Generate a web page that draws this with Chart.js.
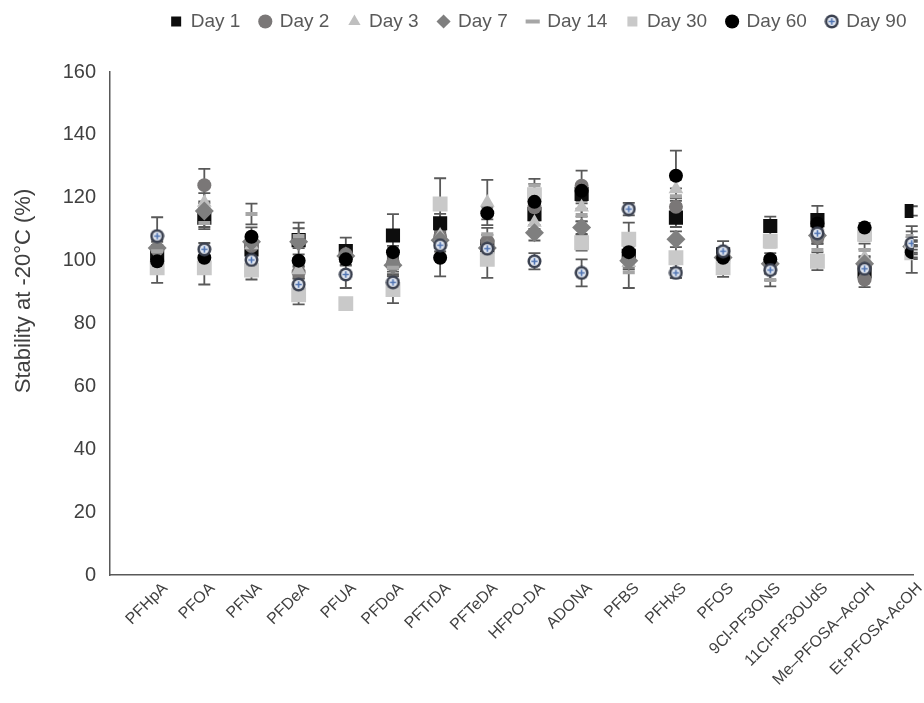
<!DOCTYPE html>
<html>
<head>
<meta charset="utf-8">
<script src="https://cdn.jsdelivr.net/npm/chart.js@4.4.0/dist/chart.umd.min.js"></script>
<style>
  html, body { margin: 0; padding: 0; background: #fff; overflow: hidden; }
  #wrap { width: 924px; height: 703px; }
</style>
</head>
<body>
<div id="wrap"><canvas id="stabilityChart"></canvas></div>
<script>
// Données
const compounds = ['PFHpA', 'PFOA', 'PFNA', 'PFDeA', 'PFUA', 'PFDoA', 'PFTrDA', 'PFTeDA', 'HFPO-DA', 'ADONA',
    'PFBS', 'PFHxS', 'PFOS', '9Cl-PF3ONS', '11Cl-PF3OUdS', 'Me\u2013PFOSA\u2013AcOH', 'Et-PFOSA-AcOH'];
const yTickValues = [0, 20, 40, 60, 80, 100, 120, 140, 160];
const yTitle = 'Stability at -20\u00B0C (%)';

const day1 = [102, 113.7, 103.6, 106.5, 103, 108, 111.9, 104.5, 114.8, 121.2, 101.5, 113.7, 102, 111, 112.9, 96.6, 115.8];
const day1Err = [2, 3, 2.5, 5.6, 4.3, 6.8, 3, 2.5, 2, 3, 2, 3, 2, 3, 4.5, 2, 1.5];
const day2 = [103.6, 124, 104.6, 96.3, 102, 99.3, 107.5, 106.2, 117, 123.8, 100.4, 117.1, 101.5, 99.5, 107.3, 94, 104];
const day2Err = [3, 5.2, 2.5, 2, 2, 2, 2, 2, 2.5, 4.8, 2, 3, 1.5, 2, 2, 2.4, 2];
const day3 = [101, 118.5, 105, 97, 101, 99.5, 108, 118.5, 112.1, 117, 99.3, 122.8, 100.5, 98, 111, 101, 103];
const day3Err = [2, 3, 2, 2, 1.5, 2, 2, 7.2, 2, 3, 2, 3, 1.5, 2, 2, 2.6, 2];
const day7 = [104, 115.8, 106, 106, 101.5, 98.5, 106.5, 104, 108.9, 110.5, 100, 106.8, 101, 99, 108, 99, 104.5];
const day7Err = [2, 2.5, 2, 2, 1.5, 2, 2, 2, 2.5, 2, 2, 2.5, 1.5, 2, 2, 2, 2];
const day14 = [103, 112, 114.8, 107.8, 101, 97.7, 106, 108.4, 124, 114.5, 96.3, 120.5, 96.3, 93.8, 103.4, 103.4, 107.8];
const day14Err = [2, 2, 3.3, 2.5, 1.5, 2, 2, 2, 2, 2, 5, 2.5, 1.5, 2, 2, 2, 3.2];
const day30 = [97.7, 97.7, 97, 89.1, 86.3, 90.8, 118, 100.4, 121, 105.7, 106.8, 100.9, 97.7, 106.2, 99.8, 108.4, 102.5];
const day30Err = [4.8, 5.3, 3, 3, 1.5, 4.3, 8.2, 5.9, 3.4, 2.5, 5.3, 6.4, 1.7, 2, 2.8, 2, 2];
const day60 = [99.8, 100.9, 107.6, 100, 100.4, 102.7, 100.9, 115.1, 118.7, 122.2, 102.7, 127, 100.9, 100.4, 111.8, 110.5, 102.7];
const day60Err = [2, 2, 3, 2, 2, 2, 5.9, 2, 2, 2, 2, 8, 1.5, 2, 2, 1.5, 6.6];
const day90 = [107.8, 103.6, 100.2, 92.4, 95.6, 93.1, 104.9, 103.8, 99.8, 96.1, 116.4, 96.1, 103, 97, 108.7, 97.4, 105.5];
const day90Err = [6, 2, 2, 2, 4.3, 2, 2, 2, 2.6, 4.3, 2, 1.6, 3.2, 3.2, 2, 2, 2];

// Réglages de mise en page
const PLOT_LEFT = 110;
const PLOT_TOP = 72;
const PLOT_BOTTOM = 575;
const CANVAS_W = 924;
const CANVAS_H = 703;
const X_MAX = 17.26;
const LEGEND_SHIFT = 13;

// Marqueur "Day 90" : rond sombre avec motif bleu
function makeDay90Marker(size) {
    const c = document.createElement('canvas');
    c.width = size;
    c.height = size;
    const ctx = c.getContext('2d');
    const r = size / 2;
    ctx.fillStyle = '#3b4150';
    ctx.beginPath();
    ctx.arc(r, r, r - 0.5, 0, Math.PI * 2);
    ctx.fill();
    ctx.fillStyle = '#e4e9f2';
    ctx.beginPath();
    ctx.arc(r, r, r * 0.6, 0, Math.PI * 2);
    ctx.fill();
    ctx.strokeStyle = '#4f74b3';
    ctx.lineWidth = 1.6;
    ctx.beginPath();
    ctx.moveTo(r, r - r * 0.42);
    ctx.lineTo(r, r + r * 0.42);
    ctx.moveTo(r - r * 0.42, r);
    ctx.lineTo(r + r * 0.42, r);
    ctx.stroke();
    return c;
}

function toPoints(values) {
    return values.map((v, i) => ({ x: i + 1, y: v }));
}

function series(label, values, errors, style, color, radius, borderWidth) {
    return {
        label: label,
        data: toPoints(values),
        errors: errors,
        showLine: false,
        pointStyle: style,
        pointRadius: radius,
        pointHoverRadius: radius,
        backgroundColor: color,
        borderColor: color,
        borderWidth: borderWidth || 0,
        pointBackgroundColor: color,
        pointBorderColor: color,
        pointBorderWidth: borderWidth || 0
    };
}

// Barres d'erreur dessinées sous les marqueurs
const errorBars = {
    id: 'errorBars',
    beforeDatasetsDraw(chart) {
        const ctx = chart.ctx;
        const yScale = chart.scales.y;
        ctx.save();
        ctx.strokeStyle = '#595959';
        ctx.lineWidth = 1.8;
        chart.data.datasets.forEach((ds, di) => {
            const meta = chart.getDatasetMeta(di);
            if (meta.hidden) return;
            meta.data.forEach((pt, i) => {
                const e = ds.errors[i];
                const v = ds.data[i].y;
                const yTop = yScale.getPixelForValue(v + e);
                const yBot = yScale.getPixelForValue(v - e);
                ctx.beginPath();
                ctx.moveTo(pt.x, yTop);
                ctx.lineTo(pt.x, yBot);
                ctx.moveTo(pt.x - 6, yTop);
                ctx.lineTo(pt.x + 6, yTop);
                ctx.moveTo(pt.x - 6, yBot);
                ctx.lineTo(pt.x + 6, yBot);
                ctx.stroke();
            });
        });
        ctx.restore();
    }
};

// Titre de l'axe Y, placé comme sur la figure
const yAxisTitle = {
    id: 'yAxisTitle',
    afterDraw(chart) {
        const ctx = chart.ctx;
        ctx.save();
        ctx.translate(24, 291);
        ctx.rotate(-Math.PI / 2);
        ctx.font = '22px "Liberation Sans", Arial, sans-serif';
        ctx.fillStyle = '#404040';
        ctx.textAlign = 'center';
        ctx.textBaseline = 'middle';
        ctx.fillText(yTitle, 0, 0);
        ctx.restore();
    }
};

// Décaler la légende vers la droite
const legendShift = {
    id: 'legendShift',
    afterLayout(chart) {
        chart.legend.left += LEGEND_SHIFT;
        chart.legend.right += LEGEND_SHIFT;
    }
};

const datasets = [
    series('Day 1', day1, day1Err, 'rect', '#0d0d0d', 10),
    series('Day 2', day2, day2Err, 'circle', '#7a7777', 7),
    series('Day 3', day3, day3Err, 'triangle', '#bfbfbf', 8.5),
    series('Day 7', day7, day7Err, 'rectRot', '#7f7f7f', 9.5),
    series('Day 14', day14, day14Err, 'line', '#a6a6a6', 6, 4),
    series('Day 30', day30, day30Err, 'rect', '#c9c9c9', 10.5),
    series('Day 60', day60, day60Err, 'circle', '#000000', 7),
    series('Day 90', day90, day90Err, makeDay90Marker(15), '#3b4150', 7.5)
];
// Les dernières séries passent au-dessus, comme dans Excel
datasets.forEach((ds, i) => { ds.order = datasets.length - i; });

Chart.defaults.font.family = '"Liberation Sans", Arial, sans-serif';
Chart.defaults.color = '#595959';

const chart = new Chart(document.getElementById('stabilityChart'), {
    type: 'scatter',
    data: { datasets: datasets },
    plugins: [errorBars, yAxisTitle, legendShift],
    options: {
        responsive: true,
        maintainAspectRatio: false,
        animation: false,
        layout: { padding: { top: -8, left: 0, right: 0, bottom: 0 } },
        plugins: {
            tooltip: { enabled: false },
            legend: {
                position: 'top',
                align: 'end',
                fullSize: false,
                labels: {
                    usePointStyle: true,
                    boxWidth: 10,
                    boxHeight: 10,
                    padding: 20,
                    color: '#595959',
                    font: { size: 19 },
                    sort: (a, b) => a.datasetIndex - b.datasetIndex
                }
            }
        },
        scales: {
            x: {
                type: 'linear',
                min: 0,
                max: X_MAX,
                grid: { display: false, drawTicks: false },
                border: { display: true, color: '#595959', width: 1.5 },
                afterBuildTicks: scale => {
                    scale.ticks = compounds.map((c, i) => ({ value: i + 1 }));
                },
                afterFit: scale => {
                    scale.height = CANVAS_H - PLOT_BOTTOM;
                    scale.paddingLeft = 0;
                    scale.paddingRight = 0;
                },
                ticks: {
                    autoSkip: false,
                    minRotation: 45,
                    maxRotation: 45,
                    padding: 4,
                    labelOffset: 8,
                    color: '#404040',
                    font: { size: 16 },
                    callback: value => compounds[value - 1] || ''
                }
            },
            y: {
                min: 0,
                max: 160,
                grid: { display: false, drawTicks: false },
                border: { display: true, color: '#595959', width: 1.5 },
                afterBuildTicks: scale => {
                    scale.ticks = yTickValues.map(v => ({ value: v }));
                },
                afterFit: scale => {
                    scale.width = PLOT_LEFT;
                },
                ticks: {
                    padding: 14,
                    color: '#404040',
                    font: { size: 20 }
                }
            }
        }
    }
});

// Légende en haut, zone de tracé calée sur la figure d'origine
let legendHeight = 80;
const baseFit = chart.legend.fit.bind(chart.legend);
chart.legend.fit = function () {
    baseFit();
    this.height = legendHeight;
};
chart.update();

legendHeight += PLOT_TOP - chart.chartArea.top;
chart.options.layout.padding.right -= CANVAS_W - chart.chartArea.right;
chart.update();

// Si la zone reste plus étroite, garder l'espacement des catégories
if (Math.abs(chart.chartArea.right - CANVAS_W) > 1) {
    const step = (CANVAS_W - PLOT_LEFT) / X_MAX;
    chart.options.scales.x.max = (chart.chartArea.right - chart.chartArea.left) / step;
    chart.update();
}
</script>
</body>
</html>
